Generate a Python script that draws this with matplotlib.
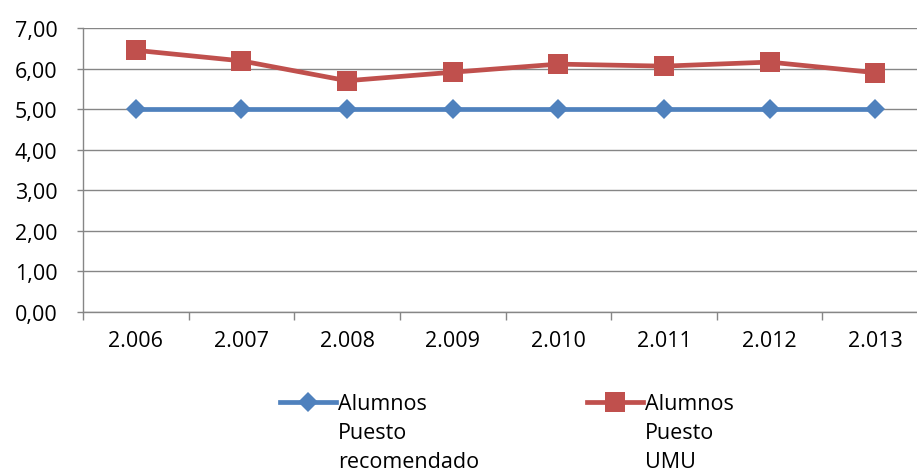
import numpy as np
import matplotlib
matplotlib.use("Agg")
import matplotlib.pyplot as plt
from matplotlib.ticker import FuncFormatter, FixedLocator
from matplotlib.legend_handler import HandlerLine2D

years = ["2.006", "2.007", "2.008", "2.009", "2.010", "2.011", "2.012", "2.013"]
recomendado = [5.00, 5.00, 5.00, 5.00, 5.00, 5.00, 5.00, 5.00]
umu = [6.45, 6.19, 5.70, 5.91, 6.11, 6.06, 6.16, 5.90]
labels = ["Alumnos\nPuesto\nrecomendado", "Alumnos\nPuesto\nUMU"]

plt.rcParams['font.family'] = ['Open Sans', 'DejaVu Sans']
FS = 15.5
GRAY = "#868686"
BLUE = "#4F81BD"
RED = "#C0504D"

fig = plt.figure(figsize=(9.17, 4.77), dpi=100)
ax = fig.add_axes([83/917, 1-313/477, (928-83)/917, (313-29)/477])

x = np.arange(len(years))
l1, = ax.plot(x, recomendado, color=BLUE, lw=3.4, marker='D', ms=10, mew=0, zorder=3)
l2, = ax.plot(x, umu, color=RED, lw=3.4, marker='s', ms=14, mew=0, zorder=4)

ax.set_xlim(-0.5, len(years) - 0.5)
ax.set_ylim(0, 7)
ax.yaxis.set_major_locator(FixedLocator(np.arange(0, 8)))
ax.yaxis.set_major_formatter(FuncFormatter(lambda v, p: f"{v:.2f}".replace('.', ',')))
ax.xaxis.set_major_locator(FixedLocator(np.arange(-0.5, len(years))))
ax.xaxis.set_major_formatter(FuncFormatter(lambda v, p: ""))
ax.xaxis.set_minor_locator(FixedLocator(x))
ax.set_xticklabels(years, minor=True)
ax.tick_params(axis='x', which='major', length=6, width=1, color=GRAY, direction='out')
ax.tick_params(axis='x', which='minor', length=0, pad=13, labelsize=FS)
ax.tick_params(axis='y', which='major', length=4.5, width=1, color=GRAY, direction='out', pad=14, labelsize=FS)
ax.grid(axis='y', color=GRAY, lw=1.0)
ax.set_axisbelow(True)
for s in ['top', 'right']:
    ax.spines[s].set_visible(False)
for s in ['left', 'bottom']:
    ax.spines[s].set_color(GRAY)
    ax.spines[s].set_linewidth(1.0)


class TopHandler(HandlerLine2D):
    def __init__(self, dy, **kw):
        super().__init__(**kw)
        self.dy = dy

    def create_artists(self, legend, orig_handle, xdescent, ydescent, width, height, fontsize, trans):
        arts = super().create_artists(legend, orig_handle, xdescent, ydescent, width, height, fontsize, trans)
        for a in arts:
            a.set_ydata(np.asarray(a.get_ydata(), dtype=float) + self.dy)
        return arts


LS = 1.5
dy = 22.0
leg = fig.legend([l1, l2], labels, loc='upper center', bbox_to_anchor=(507/917, 1-383/477),
                 ncol=2, frameon=False, fontsize=FS, handlelength=2.6, handletextpad=0.1,
                 columnspacing=5.0, borderpad=0,
                 handler_map={l1: TopHandler(dy), l2: TopHandler(dy)})
for t in leg.get_texts():
    t.set_linespacing(LS)

fig.savefig("out.png", dpi=100)
